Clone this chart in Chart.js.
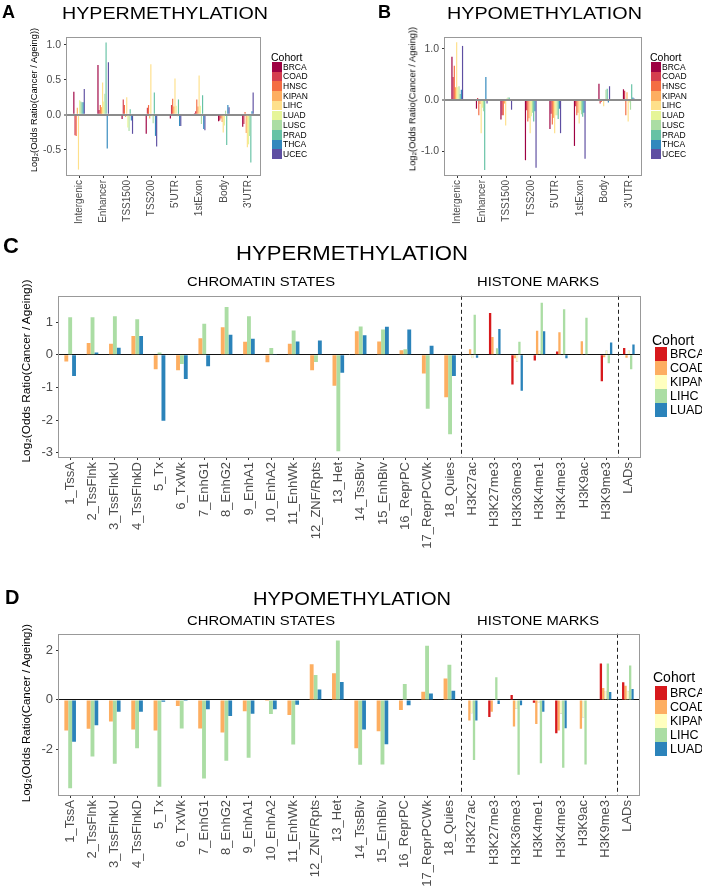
<!DOCTYPE html>
<html>
<head>
<meta charset="utf-8">
<script src="https://cdn.jsdelivr.net/npm/chart.js@4.4.0/dist/chart.umd.min.js"></script>
<style>
body { margin: 0; background: #fff; font-family: "Liberation Sans", Arial, sans-serif; }
#page { position: relative; width: 702px; height: 895px; overflow: hidden; background: #fff; }
.txt { position: absolute; white-space: nowrap; line-height: 1; color: #000; transform-origin: 0 0; will-change: transform; }
.vtxt { position: absolute; white-space: nowrap; line-height: 1; color: #000; transform-origin: 50% 50%;
        transform: translate(-50%, -50%) rotate(-90deg); }
.sw { position: absolute; }
canvas { position: absolute; }
</style>
</head>
<body>
<div id="page">
  <canvas id="chartA"></canvas>
  <canvas id="chartB"></canvas>
  <canvas id="chartC"></canvas>
  <canvas id="chartD"></canvas>
</div>
<script>
// ---- data ----
var regions = ["Intergenic", "Enhancer", "TSS1500", "TSS200", "5'UTR", "1stExon", "Body", "3'UTR"];
var cohorts10 = ["BRCA", "COAD", "HNSC", "KIPAN", "LIHC", "LUAD", "LUSC", "PRAD", "THCA", "UCEC"];
var colors10 = ["#9E0142", "#D53E4F", "#F46D43", "#FDAE61", "#FEE08B", "#E6F598", "#ABDDA4", "#66C2A5", "#3288BD", "#5E4FA2"];

// panel A, one row per cohort (same order as cohorts10), one value per region
var hyperRegion = [
    [0.33, 0.71, -0.06, -0.27, -0.05, 0.02, -0.09, -0.17],
    [-0.29, 0.07, 0.22, 0.10, 0.14, 0.05, -0.08, -0.13],
    [-0.30, 0.14, 0.14, 0.14, 0.23, 0.22, -0.05, 0.04],
    [0.10, 0.11, -0.03, -0.05, 0.12, 0.12, -0.10, -0.26],
    [-0.78, 0.46, 0.25, 0.72, 0.52, 0.56, -0.25, -0.46],
    [0.21, 0.19, -0.18, -0.02, 0.13, 0.13, -0.15, -0.42],
    [0.19, 0.30, -0.23, -0.12, -0.02, -0.13, 0.06, -0.30],
    [0.18, 1.03, 0.08, 0.32, 0.22, 0.28, -0.43, -0.68],
    [0.18, -0.48, -0.08, -0.30, -0.16, -0.20, 0.14, 0.05],
    [0.37, 0.75, -0.27, -0.45, -0.16, -0.22, 0.11, 0.32]
];
// panel B
var hypoRegion = [
    [0.85, -0.17, -0.38, -1.18, -0.57, -0.90, 0.32, 0.21],
    [0.45, 0.04, -0.30, -0.20, -0.27, -0.12, -0.07, 0.18],
    [0.67, -0.30, -0.30, -0.42, -0.48, -0.30, -0.04, -0.30],
    [0.25, -0.08, -0.07, -0.36, -0.35, -0.25, 0.02, 0.15],
    [1.13, -0.65, -0.50, -0.65, -0.65, -0.46, -0.12, -0.42],
    [0.25, -0.15, 0.03, -0.32, -0.30, -0.20, 0.00, -0.05],
    [0.27, -0.22, 0.05, -0.25, -0.30, -0.28, 0.20, -0.19],
    [0.12, -1.37, 0.05, -0.42, -0.37, -0.33, 0.22, 0.31],
    [0.20, 0.45, -0.02, -0.22, -0.17, -0.25, -0.05, 0.05],
    [1.06, -0.07, -0.19, -1.33, -0.65, -1.15, 0.27, 0.03]
];

var chromStates = ["1_TssA", "2_TssFlnk", "3_TssFlnkU", "4_TssFlnkD", "5_Tx", "6_TxWk", "7_EnhG1", "8_EnhG2",
    "9_EnhA1", "10_EnhA2", "11_EnhWk", "12_ZNF/Rpts", "13_Het", "14_TssBiv", "15_EnhBiv", "16_ReprPC",
    "17_ReprPCWk", "18_Quies"];
var histoneMarks = ["H3K27ac", "H3K27me3", "H3K36me3", "H3K4me1", "H3K4me3", "H3K9ac", "H3K9me3"];
var lads = ["LADs"];
var cohorts5 = ["BRCA", "COAD", "KIPAN", "LIHC", "LUAD"];
var colors5 = ["#D7191C", "#FDAE61", "#FFFFBF", "#ABDDA4", "#2B83BA"];

// panel C: 18 chromatin states, 7 histone marks, LADs (null = not tested)
var hyperBRCA = [null, null, null, null, null, null, null, null, null, null, null, null, null, null, null, null, null, null,
    0.00, 1.28, -0.91, -0.17, 0.10, 0.00, -0.81, 0.21];
var hyperCOAD = [-0.20, 0.36, 0.34, 0.58, -0.44, -0.47, 0.51, 0.85, 0.40, -0.23, 0.34, -0.47, -0.95, 0.72, 0.41, 0.14, -0.57, -1.30,
    0.17, 0.55, -0.10, 0.74, 0.69, 0.42, -0.07, -0.09];
var hyperKIPAN = [null, null, null, null, null, null, null, null, null, null, null, null, null, null, null, null, null, null,
    -0.10, 0.00, -0.22, 0.13, -0.02, 0.00, 0.14, 0.13];
var hyperLIHC = [1.15, 1.15, 1.18, 1.09, 0.07, -0.28, 0.95, 1.47, 1.18, 0.21, 0.75, -0.22, -2.95, 0.87, 0.78, 0.17, -1.65, -2.43,
    1.23, 0.20, 0.40, 1.60, 1.40, 1.14, -0.26, -0.44];
var hyperLUAD = [-0.65, 0.07, 0.22, 0.58, -2.02, -0.74, -0.35, 0.62, 0.49, 0.03, 0.41, 0.44, -0.55, 0.60, 0.86, 0.78, 0.28, -0.65,
    -0.09, 0.79, -1.10, 0.72, -0.10, 0.00, 0.38, 0.32];

// panel D
var hypoBRCA = [null, null, null, null, null, null, null, null, null, null, null, null, null, null, null, null, null, null,
    0.00, -0.70, 0.20, -0.12, -1.36, 0.00, 1.48, 0.72];
var hypoCOAD = [-1.25, -1.17, -0.88, -1.20, -1.25, -0.25, -1.16, -1.33, -0.46, -0.04, -0.61, 1.45, 1.08, -1.97, -1.28, -0.41, 0.33, 0.87,
    -0.84, -0.48, -1.08, -0.98, -1.25, -1.17, 0.48, 0.58];
var hypoKIPAN = [null, null, null, null, null, null, null, null, null, null, null, null, null, null, null, null, null, null,
    -0.55, -0.02, -0.37, -0.12, -0.57, -0.73, 0.37, 0.37];
var hypoLIHC = [-3.60, -2.30, -2.60, -1.97, -3.53, -1.16, -3.20, -2.48, -2.35, -0.57, -1.81, 1.01, 2.42, -2.64, -2.63, 0.65, 2.20, 1.43,
    -2.45, 0.92, -3.05, -2.58, -2.76, -2.63, 1.48, 1.40];
var hypoLUAD = [-1.70, -1.03, -0.48, -0.48, -0.08, -0.04, -0.38, -0.66, -0.56, -0.38, -0.20, 0.42, 0.73, -1.20, -1.80, -0.22, 0.26, 0.37,
    -0.84, -0.17, -0.22, -0.48, -1.15, 0.00, 0.32, 0.44];

var yTicksA = [-0.5, 0, 0.5, 1.0];
var yTicksB = [-1.0, 0, 1.0];
var yTicksC = [-3, -2, -1, 0, 1];
var yTicksD = [-2, 0, 2];

var yTitle = "Log\u2082(Odds Ratio(Cancer / Ageing))";

Chart.defaults.font.family = '"Liberation Sans", Arial, sans-serif';

// ---- helpers ----
var page = document.getElementById('page');

function text(str, x, capTop, size, opts) {
    opts = opts || {};
    var d = document.createElement('div');
    d.className = 'txt';
    d.textContent = str;
    d.style.left = x + 'px';
    d.style.top = (capTop - 0.13 * size) + 'px';
    d.style.fontSize = size + 'px';
    if (opts.bold) d.style.fontWeight = 'bold';
    if (opts.color) d.style.color = opts.color;
    page.appendChild(d);
    if (opts.width) {
        var w = d.getBoundingClientRect().width;
        d.style.transform = 'scaleX(' + (opts.width / w) + ')';
    }
    return d;
}

// rotated axis title, centred on (cx, cy)
function vtext(str, cx, cy, size) {
    var d = document.createElement('div');
    d.className = 'vtxt';
    d.textContent = str;
    d.style.left = cx + 'px';
    d.style.top = cy + 'px';
    d.style.fontSize = size + 'px';
    page.appendChild(d);
}

function legend(names, cols, lg) {
    text('Cohort', lg.x, lg.titleTop, lg.titleSize);
    names.forEach(function (name, i) {
        var s = document.createElement('div');
        s.className = 'sw';
        s.style.left = lg.swX + 'px';
        s.style.top = (lg.swTop + i * lg.swH) + 'px';
        s.style.width = lg.swW + 'px';
        s.style.height = lg.swH + 'px';
        s.style.background = cols[i];
        page.appendChild(s);
        var mid = lg.swTop + i * lg.swH + lg.swH / 2;
        text(name, lg.labelX, mid - 0.36 * lg.labelSize, lg.labelSize, {color: '#000'});
    });
}

var panelBox = {
    id: 'panelBox',
    afterDatasetsDraw: function (chart, args, opts) {
        var a = chart.chartArea, ctx = chart.ctx, xs = chart.scales.x;
        ctx.save();
        (opts.dividers || []).forEach(function (i) {
            var px = Math.round((xs.getPixelForValue(i - 1) + xs.getPixelForValue(i)) / 2) + 0.5;
            ctx.strokeStyle = '#222';
            ctx.lineWidth = 1;
            ctx.setLineDash([4, 3]);
            ctx.beginPath();
            ctx.moveTo(px, a.top);
            ctx.lineTo(px, a.bottom);
            ctx.stroke();
        });
        ctx.setLineDash([]);
        ctx.strokeStyle = opts.color || '#999';
        ctx.lineWidth = 1;
        ctx.strokeRect(Math.round(a.left) - 0.5, Math.round(a.top) + 0.5,
            Math.round(a.right - a.left) + 1, Math.round(a.bottom - a.top));
        ctx.restore();
    }
};

function makeChart(id, box, area, cfg) {
    var canvas = document.getElementById(id);
    canvas.width = box.w;
    canvas.height = box.h;
    canvas.style.left = box.x + 'px';
    canvas.style.top = box.y + 'px';
    canvas.style.width = box.w + 'px';
    canvas.style.height = box.h + 'px';
    var yWidth = area.l - box.x;
    var xHeight = box.y + box.h - area.b;

    var datasets = cfg.series.map(function (vals, i) {
        // the palest colour gets a faint outline, as in the original
        var pale = cfg.colors[i] === '#FFFFBF';
        return {
            label: cfg.names[i],
            data: vals,
            backgroundColor: cfg.colors[i],
            borderColor: pale ? 'rgba(150,150,150,0.7)' : 'rgba(0,0,0,0)',
            borderWidth: pale ? 0.5 : 0,
            categoryPercentage: cfg.catPct,
            barPercentage: 1.0,
            skipNull: true
        };
    });

    return new Chart(canvas, {
        type: 'bar',
        data: {labels: cfg.labels, datasets: datasets},
        options: {
            responsive: false,
            animation: false,
            layout: {padding: {top: area.t - box.y, right: box.x + box.w - area.r, left: 0, bottom: 0}},
            plugins: {
                legend: {display: false},
                tooltip: {enabled: false},
                panelBox: {dividers: cfg.dividers, color: cfg.boxColor}
            },
            scales: {
                x: {
                    ticks: {
                        autoSkip: false, minRotation: 90, maxRotation: 90,
                        font: {size: cfg.xFont}, color: '#4d4d4d', padding: 2
                    },
                    grid: {
                        offset: false, drawOnChartArea: false, color: 'rgba(0,0,0,0)',
                        tickColor: '#333', tickLength: 3, tickWidth: 1
                    },
                    border: {display: false},
                    afterFit: function (s) { s.height = xHeight; }
                },
                y: {
                    min: cfg.yMin, max: cfg.yMax,
                    afterBuildTicks: function (s) {
                        s.ticks = cfg.yTicks.map(function (v) { return {value: v}; });
                    },
                    ticks: {
                        font: {size: cfg.yFont}, color: '#4d4d4d', padding: 3,
                        callback: cfg.yFormat
                    },
                    grid: {
                        color: function (c) { return c.tick && c.tick.value === 0 ? cfg.zeroColor : 'rgba(0,0,0,0)'; },
                        lineWidth: function (c) { return c.tick && c.tick.value === 0 ? cfg.zeroWidth : 1; },
                        tickColor: '#333', tickLength: 3, tickWidth: 1
                    },
                    border: {display: false},
                    afterFit: function (s) { s.width = yWidth; }
                }
            }
        },
        plugins: [panelBox]
    });
}

// ---- panel A ----
text('A', 2, 5, 18, {bold: true});
text('HYPERMETHYLATION', 62, 7, 16.5, {width: 206});
makeChart('chartA', {x: 0, y: 26, w: 268, h: 210}, {l: 67, t: 37, r: 260, b: 175}, {
    labels: regions, names: cohorts10, colors: colors10, series: hyperRegion,
    catPct: 0.48, yMin: -0.857, yMax: 1.11, yTicks: yTicksA,
    yFormat: function (v) { return v.toFixed(1); },
    xFont: 10, yFont: 10.5,
    zeroColor: '#8c8c8c', zeroWidth: 2, boxColor: '#999'
});
vtext(yTitle, 35, 100, 9.3);
legend(cohorts10, colors10, {x: 271, titleTop: 53, titleSize: 10.5, swX: 272, swTop: 62, swW: 9.5, swH: 9.7, labelX: 283, labelSize: 8.5});

// ---- panel B ----
text('B', 378, 5, 18, {bold: true});
text('HYPOMETHYLATION', 447, 7, 16.5, {width: 195});
makeChart('chartB', {x: 350, y: 26, w: 298, h: 210}, {l: 445, t: 37, r: 641, b: 175}, {
    labels: regions, names: cohorts10, colors: colors10, series: hypoRegion,
    catPct: 0.48, yMin: -1.47, yMax: 1.235, yTicks: yTicksB,
    yFormat: function (v) { return v.toFixed(1); },
    xFont: 10, yFont: 10.5,
    zeroColor: '#8c8c8c', zeroWidth: 2, boxColor: '#999'
});
vtext(yTitle, 413, 99, 9.3);
legend(cohorts10, colors10, {x: 650, titleTop: 53, titleSize: 10.5, swX: 651, swTop: 62, swW: 9.5, swH: 9.7, labelX: 662, labelSize: 8.5});

// ---- panel C ----
var categoriesCD = chromStates.concat(histoneMarks, lads);
var dividersCD = [chromStates.length, chromStates.length + histoneMarks.length];

text('C', 3, 238, 22, {bold: true});
text('HYPERMETHYLATION', 236, 246, 20, {width: 232});
text('CHROMATIN STATES', 187, 277, 13, {width: 148});
text('HISTONE MARKS', 477, 277, 13, {width: 122});
makeChart('chartC', {x: 0, y: 285, w: 650, h: 290}, {l: 59, t: 293, r: 640, b: 457}, {
    labels: categoriesCD, names: cohorts5, colors: colors5,
    series: [hyperBRCA, hyperCOAD, hyperKIPAN, hyperLIHC, hyperLUAD],
    catPct: 0.52, yMin: -3.13, yMax: 1.81, yTicks: yTicksC,
    yFormat: function (v) { return String(v); },
    xFont: 13, yFont: 13,
    zeroColor: '#111', zeroWidth: 1, boxColor: '#999', dividers: dividersCD
});
vtext(yTitle, 27, 371, 11.8);
legend(cohorts5, colors5, {x: 652, titleTop: 335, titleSize: 14, swX: 655, swTop: 347, swW: 12, swH: 14, labelX: 670, labelSize: 12.5});

// ---- panel D ----
text('D', 5, 590, 20, {bold: true});
text('HYPOMETHYLATION', 253, 591, 19, {width: 198});
text('CHROMATIN STATES', 187, 616, 13, {width: 148});
text('HISTONE MARKS', 477, 616, 13, {width: 122});
makeChart('chartD', {x: 0, y: 623, w: 650, h: 272}, {l: 59, t: 631, r: 639, b: 795}, {
    labels: categoriesCD, names: cohorts5, colors: colors5,
    series: [hypoBRCA, hypoCOAD, hypoKIPAN, hypoLIHC, hypoLUAD],
    catPct: 0.52, yMin: -3.87, yMax: 2.69, yTicks: yTicksD,
    yFormat: function (v) { return String(v); },
    xFont: 13, yFont: 13,
    zeroColor: '#111', zeroWidth: 1, boxColor: '#999', dividers: dividersCD
});
vtext(yTitle, 27, 713, 11.5);
legend(cohorts5, colors5, {x: 653, titleTop: 672, titleSize: 14, swX: 655, swTop: 686, swW: 12, swH: 14, labelX: 670, labelSize: 12.5});
</script>
</body>
</html>
